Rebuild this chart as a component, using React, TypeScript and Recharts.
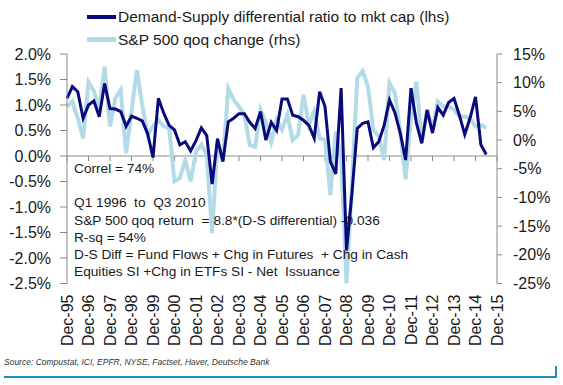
import React from "react";
import { LineChart, Line, XAxis, YAxis, ReferenceLine, Legend } from "recharts";

const yearLabels = [
  "Dec-95", "Dec-96", "Dec-97", "Dec-98", "Dec-99", "Dec-00", "Dec-01",
  "Dec-02", "Dec-03", "Dec-04", "Dec-05", "Dec-06", "Dec-07", "Dec-08",
  "Dec-09", "Dec-10", "Dec-11", "Dec-12", "Dec-13", "Dec-14", "Dec-15",
];
// quarter index of each Dec label (0 = Dec-95)
const yearTicks = [0, 4, 8, 12, 16, 20, 24, 28, 32, 36, 40, 44, 48, 52, 56, 60, 64, 68, 72, 76, 80];
const lhsTicks = [-2.5, -2, -1.5, -1, -0.5, 0, 0.5, 1, 1.5, 2];
const rhsTicks = [-25, -20, -15, -10, -5, 0, 5, 10, 15];

// Demand-Supply differential ratio to mkt cap, % (lhs), quarterly from Dec-95
const dsDiff = [
  1.13, 1.36, 1.26, 0.74, 1.0, 1.08, 0.77, 1.42, 0.93, 0.92,
  0.87, 0.58, 0.78, 0.74, 0.69, 0.44, -0.03, 1.13, 0.84, 0.6,
  0.51, 0.22, 0.28, 0.1, 0.3, 0.55, 0.4, -0.55, 0.34, -0.11,
  0.67, 0.74, 0.83, 0.83, 0.66, 0.54, 0.87, 0.31, 0.66, 0.5,
  1.12, 1.12, 0.8, 0.77, 0.7, 0.6, 0.35, 1.26, 0.97, -0.11,
  -0.35, 1.33, -1.85, -0.75, 0.54, 0.64, 0.67, 0.16, 0.28, 0.6,
  1.1, 0.85, 0.45, -0.08, 1.33, 0.65, 0.25, 0.9, 0.45, 0.95,
  0.8, 1.05, 1.13, 0.8, 0.42, 0.75, 1.16, 0.22, 0.03,
];

// S&P 500 qoq change, % (rhs)
const spxQoq = [
  5.85, 6.7, 3.8, 0.3, 10.1, 8.5, 5.3, 12.8, 2.4, 7.3,
  8.75, -2.3, 5.0, 12.2, 6.1, 0.9, 2.4, 3.5, 2.4, 2.1,
  -7.2, -6.6, -3.5, -7.2, -2.0, -0.8, -2.6, -16.2, -0.3, -3.5,
  9.0, 7.0, 5.85, 4.4, -0.9, -1.2, 5.3, 3.0, -0.3, 3.5,
  1.8, 4.4, 0, 0.9, 7.9, 2.65, 5.0, 0.3, 0, -9.6,
  1.5, -3, -25, -8, 10.8, 12, 9.3, 1.8, 0.6, -3.5,
  9.9, 8.2, 1.5, -6.9, 4, 10.2, -0.3, 5.3, 1.8, 6.7,
  5.85, 5.85, 5.3, 4.1, 4.1, 3.8, 2.35, 2.65, 2.1,
];

const data = dsDiff.map((v, i) => ({ q: i, ds: v, spx: spxQoq[i] }));

const DARK = "#0a0a7c";
const LIGHT = "#b2dbe7";
const AXIS = "#8a8a8a";
const TEXT = "#1a1a1a";
const FONT = "'Liberation Sans', Arial, sans-serif";

const legendItems = [
  { label: "Demand-Supply differential ratio to mkt cap (lhs)", color: DARK, h: 4 },
  { label: "S&P 500 qoq change (rhs)", color: LIGHT, h: 5 },
];

const notes = [
  "Correl = 74%",
  "",
  "Q1 1996  to  Q3 2010",
  "S&P 500 qoq return  = 8.8*(D-S differential) -0.036",
  "R-sq = 54%",
  "D-S Diff = Fund Flows + Chg in Futures  + Chg in Cash",
  "Equities SI +Chg in ETFs SI - Net  Issuance",
];

function YearTick(props: any) {
  const { x, y, payload } = props;
  const label = yearLabels[yearTicks.indexOf(payload.value)];
  const ty = y + 11;
  return (
    <text
      x={x}
      y={ty}
      transform={`rotate(-90 ${x} ${ty})`}
      textAnchor="end"
      dominantBaseline="central"
      fontSize={16}
      fill={TEXT}
      fontFamily={FONT}
    >
      {label}
    </text>
  );
}

function LegendBox() {
  return (
    <div style={{ fontFamily: FONT, fontSize: 15.5, color: TEXT }}>
      {legendItems.map((it) => (
        <div key={it.label} style={{ display: "flex", alignItems: "center", height: 23, whiteSpace: "nowrap" }}>
          <span style={{ display: "inline-block", width: 29, height: it.h, background: it.color, marginRight: 2 }} />
          <span>{it.label}</span>
        </div>
      ))}
    </div>
  );
}

export default function App() {
  return (
    <div
      style={{
        position: "absolute",
        left: 0,
        top: 0,
        width: 563,
        height: 385,
        background: "#fff",
        fontFamily: FONT,
      }}
    >
      <LineChart width={563} height={385} data={data} margin={{ top: 54, right: 6, bottom: 31.5, left: 7 }}>
        <XAxis
          dataKey="q"
          type="number"
          domain={[0, 80]}
          ticks={yearTicks}
          interval={0}
          axisLine={false}
          tickLine={false}
          tickSize={0}
          tickMargin={0}
          height={70}
          tick={<YearTick />}
        />
        <YAxis
          yAxisId="lhs"
          orientation="left"
          domain={[-2.5, 2]}
          ticks={lhsTicks}
          interval={0}
          width={60}
          tickFormatter={(v: number) => `${v.toFixed(1)}%`}
          tick={{ fontSize: 16, fill: TEXT, fontFamily: FONT }}
          axisLine={{ stroke: AXIS }}
          tickLine={{ stroke: AXIS }}
          tickSize={7}
          tickMargin={9}
        />
        <YAxis
          yAxisId="rhs"
          orientation="right"
          domain={[-25, 15]}
          ticks={rhsTicks}
          interval={0}
          width={60}
          tickFormatter={(v: number) => `${v}%`}
          tick={{ fontSize: 16, fill: TEXT, fontFamily: FONT }}
          axisLine={{ stroke: AXIS }}
          tickLine={{ stroke: AXIS }}
          tickSize={5}
          tickMargin={11}
        />
        <ReferenceLine yAxisId="lhs" y={0} stroke={AXIS} />
        {yearTicks.map((t) => (
          <ReferenceLine
            key={t}
            yAxisId="lhs"
            segment={[
              { x: t, y: 0 },
              { x: t, y: -0.1 },
            ]}
            stroke={AXIS}
          />
        ))}
        <Line
          yAxisId="rhs"
          dataKey="spx"
          type="linear"
          stroke={LIGHT}
          strokeWidth={4}
          dot={false}
          isAnimationActive={false}
        />
        <Line
          yAxisId="lhs"
          dataKey="ds"
          type="linear"
          stroke={DARK}
          strokeWidth={3}
          dot={false}
          isAnimationActive={false}
        />
        <Legend
          layout="vertical"
          verticalAlign="middle"
          align="center"
          wrapperStyle={{ top: 5, left: 87, width: 420 }}
          content={<LegendBox />}
        />
      </LineChart>
      <div
        style={{
          position: "absolute",
          left: 74,
          top: 160,
          fontSize: 13.7,
          lineHeight: "17.2px",
          color: TEXT,
          whiteSpace: "pre",
        }}
      >
        {notes.map((n, i) => (
          <div key={i} style={{ height: 17.2 }}>{n}</div>
        ))}
      </div>
      <div
        style={{
          position: "absolute",
          left: 4,
          top: 357,
          fontSize: 8.5,
          fontStyle: "italic",
          color: "#333",
          whiteSpace: "nowrap",
        }}
      >
        Source: Compustat, ICI, EPFR, NYSE, Factset, Haver, Deutsche Bank
      </div>
      <div style={{ position: "absolute", left: 4, top: 376, width: 553, height: 2, background: "#1b8ec6" }} />
      <div style={{ position: "absolute", left: 555, top: 366, width: 2, height: 12, background: "#1b8ec6" }} />
    </div>
  );
}
